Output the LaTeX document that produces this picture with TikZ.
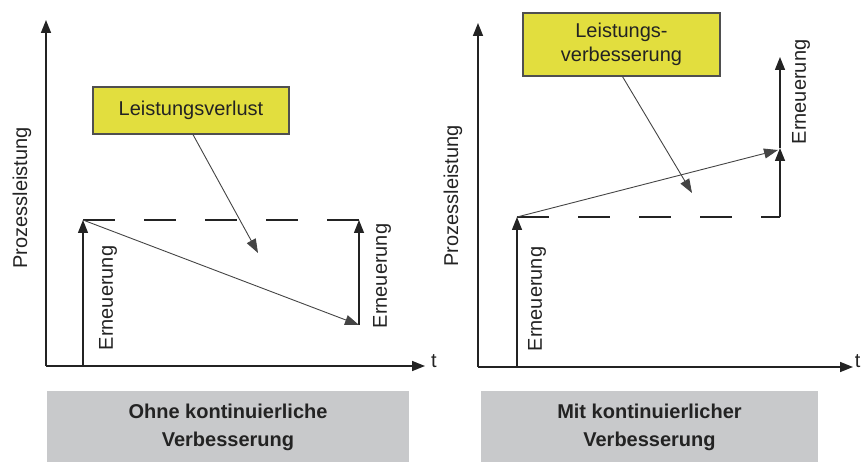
\documentclass[tikz,border=0pt]{standalone}
\usepackage{fontspec}
\setmainfont{Liberation Sans}
\usetikzlibrary{arrows.meta}
\definecolor{boxyellow}{RGB}{226,222,62}
\definecolor{capgray}{RGB}{200,201,203}
\definecolor{ink}{RGB}{35,35,35}
\begin{document}
\begin{tikzpicture}[x=1pt,y=-1pt,
  axis/.style={line width=1.6pt, draw=ink, -{Triangle[length=13pt,width=10pt]}},
  renew/.style={line width=1.4pt, draw=ink, -{Triangle[length=13pt,width=10pt]}},
  trend/.style={line width=0.9pt, draw=ink!85, -{Triangle[length=14pt,width=10pt]}},
  pointer/.style={line width=0.9pt, draw=ink!85, -{Triangle[length=14pt,width=10pt]}},
  level/.style={line width=1.4pt, draw=ink, dash pattern=on 32pt off 29pt},
  callout/.style={draw=ink!80, line width=1.2pt, fill=boxyellow, inner sep=0pt,
    align=center, font=\fontsize{20}{24}\selectfont, text=ink},
  caption/.style={fill=capgray, inner sep=0pt, align=center,
    font=\bfseries\fontsize{20}{28}\selectfont, text=ink},
  vlabel/.style={rotate=90, font=\fontsize{20}{24}\selectfont, text=ink, inner sep=0pt},
  tlabel/.style={font=\fontsize{20}{24}\selectfont, text=ink, inner sep=0pt},
]
\useasboundingbox (0,0) rectangle (861,462);

% ---------------- left diagram: without continuous improvement
\coordinate (o1) at (46,366);
\coordinate (y1) at (46,20);
\coordinate (x1) at (425,366);
\coordinate (a1) at (83,366);
\coordinate (p1) at (83,220);
\coordinate (q1) at (359,220);
\coordinate (r1) at (359,325);
\coordinate (lp) at (258,253);

\draw[axis] (o1) -- (y1);
\draw[axis] (o1) -- (x1);
\node[tlabel] (t1) at (434,361) {t};
\node[vlabel] (pl1) at (22,198) {Prozessleistung};

\draw[level] (p1) -- (q1);
\draw[renew] (a1) -- (p1);
\draw[renew] (r1) -- (q1);
\draw[trend] (p1) -- (r1);
\node[vlabel] (e1) at (108,298) {Erneuerung};
\node[vlabel] (e2) at (382,276) {Erneuerung};

\node[callout, minimum width=196pt, minimum height=47pt] (lossbox) at (191,110.5) {Leistungsverlust};
\draw[pointer] ([xshift=2pt]lossbox.south) -- (lp);

\node[caption, minimum width=362pt, minimum height=72pt] (cap1) at (228,427)
  {Ohne kontinuierliche\\Verbesserung};

% ---------------- right diagram: with continuous improvement
\coordinate (o2) at (478,367);
\coordinate (y2) at (478,23);
\coordinate (x2) at (853,367);
\coordinate (a2) at (517,367);
\coordinate (p2) at (517,217);
\coordinate (q2) at (780,217);
\coordinate (s2) at (780,148);
\coordinate (d2) at (778,150);
\coordinate (u2) at (780,57);
\coordinate (rp) at (692,193);

\draw[axis] (o2) -- (y2);
\draw[axis] (o2) -- (x2);
\node[tlabel, anchor=east] (t2) at (860.5,361) {t};
\node[vlabel] (pl2) at (453,196) {Prozessleistung};

\draw[level] (p2) -- (q2);
\draw[renew] (a2) -- (p2);
\draw[renew] (q2) -- (s2);
\draw[renew] (s2) -- (u2);
\draw[trend] (p2) -- (d2);
\node[vlabel] (e3) at (537,299) {Erneuerung};
\node[vlabel] (e4) at (801,92) {Erneuerung};

\node[callout, minimum width=197pt, minimum height=63pt] (gainbox) at (621.5,44.5)
  {Leistungs-\\verbesserung};
\draw[pointer] ([xshift=1pt]gainbox.south) -- (rp);

\node[caption, minimum width=337pt, minimum height=72pt] (cap2) at (649.5,427)
  {Mit kontinuierlicher\\Verbesserung};
\end{tikzpicture}
\end{document}
